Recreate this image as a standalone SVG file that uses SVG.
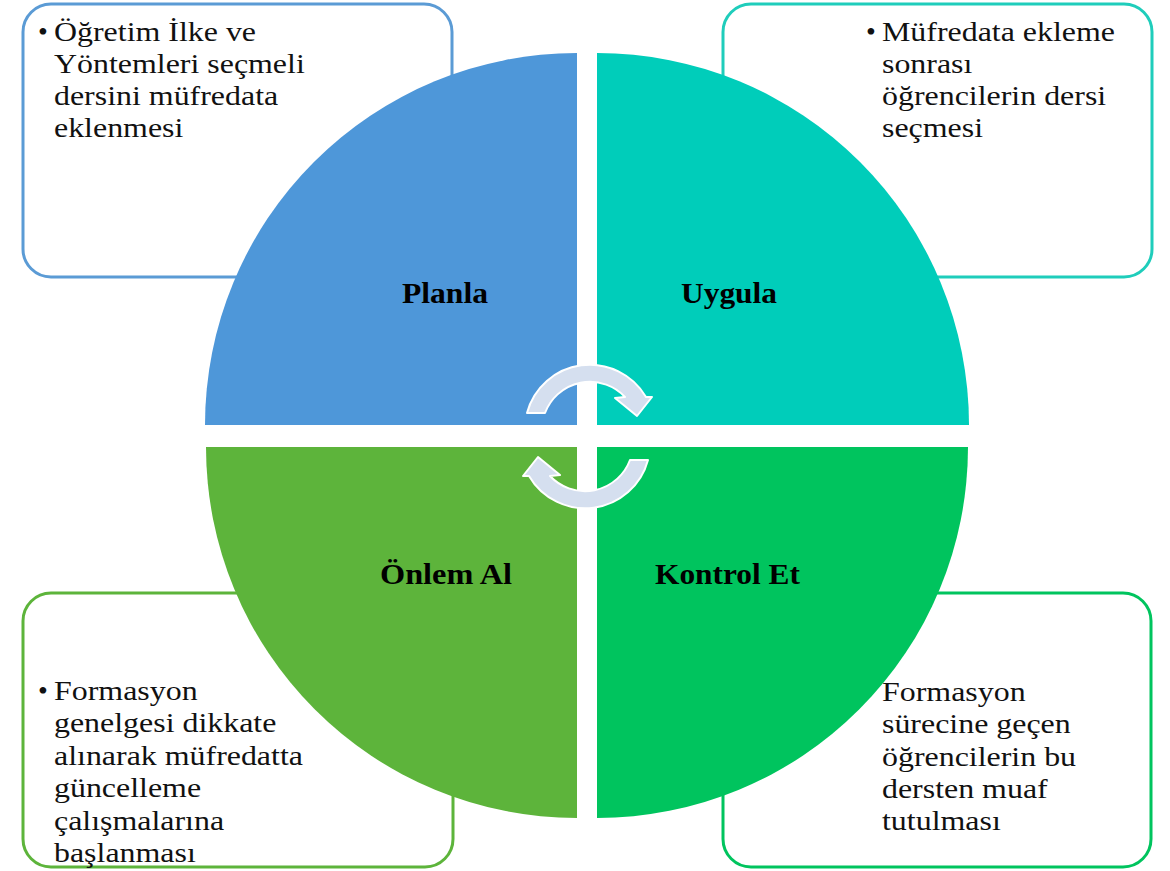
<svg xmlns="http://www.w3.org/2000/svg" width="1170" height="871" viewBox="0 0 1170 871">
  <style>
    .box { fill: #ffffff; stroke-width: 3; }
    .body { font-family: "Liberation Serif", "Times New Roman", serif; font-size: 28px; fill: #111111; }
    .lbl { font-family: "Liberation Serif", "Times New Roman", serif; font-size: 30px; font-weight: bold; fill: #000000; }
    .arrow { fill: #D5DFEF; stroke: #ffffff; stroke-width: 2; stroke-linejoin: round; }
  </style>
  <rect width="1170" height="871" fill="#ffffff"/>

  <g id="box-plan">
    <rect class="box" x="23" y="4" width="429" height="273" rx="28" stroke="#5B9BD5"/>
    <text class="body" x="38" y="41">•</text>
    <g transform="matrix(1.14 0 0 1 -7.56 0)">
      <text class="body" x="54" y="41">Öğretim İlke ve</text>
      <text class="body" x="54" y="73">Yöntemleri seçmeli</text>
      <text class="body" x="54" y="105">dersini müfredata</text>
      <text class="body" x="54" y="137">eklenmesi</text>
    </g>
  </g>

  <g id="box-uygula">
    <rect class="box" x="723" y="4" width="429" height="273" rx="28" stroke="#1FCDBB"/>
    <text class="body" x="866" y="41">•</text>
    <g transform="matrix(1.14 0 0 1 -123.48 0)">
      <text class="body" x="882" y="41">Müfredata ekleme</text>
      <text class="body" x="882" y="73">sonrası</text>
      <text class="body" x="882" y="105">öğrencilerin dersi</text>
      <text class="body" x="882" y="137">seçmesi</text>
    </g>
  </g>

  <g id="box-onlem">
    <rect class="box" x="23" y="593" width="430" height="274" rx="28" stroke="#5DB43B"/>
    <text class="body" x="38" y="700">•</text>
    <g transform="matrix(1.14 0 0 1 -7.56 0)">
      <text class="body" x="54" y="700">Formasyon</text>
      <text class="body" x="54" y="732">genelgesi dikkate</text>
      <text class="body" x="54" y="765">alınarak müfredatta</text>
      <text class="body" x="54" y="797">güncelleme</text>
      <text class="body" x="54" y="830">çalışmalarına</text>
      <text class="body" x="54" y="862">başlanması</text>
    </g>
  </g>

  <g id="box-kontrol">
    <rect class="box" x="723" y="593" width="428" height="274" rx="28" stroke="#00C45E"/>
    <g transform="matrix(1.14 0 0 1 -123.48 0)">
      <text class="body" x="882" y="701">Formasyon</text>
      <text class="body" x="882" y="733">sürecine geçen</text>
      <text class="body" x="882" y="766">öğrencilerin bu</text>
      <text class="body" x="882" y="798">dersten muaf</text>
      <text class="body" x="882" y="830">tutulması</text>
    </g>
  </g>

  <g id="sector-planla">
    <path d="M577,425 L205,425 A372,372 0 0 1 577,53 Z" fill="#4E97D9"/>
    <text class="lbl" x="402" y="303" textLength="86" lengthAdjust="spacingAndGlyphs">Planla</text>
  </g>
  <g id="sector-uygula">
    <path d="M597,425 L597,53 A372,372 0 0 1 969,425 Z" fill="#00CDBA"/>
    <text class="lbl" x="681" y="303" textLength="96" lengthAdjust="spacingAndGlyphs">Uygula</text>
  </g>
  <g id="sector-onlem">
    <path d="M577,447 L577,818 A371,371 0 0 1 206,447 Z" fill="#5DB43B"/>
    <text class="lbl" x="380" y="584" textLength="132" lengthAdjust="spacingAndGlyphs">Önlem Al</text>
  </g>
  <g id="sector-kontrol">
    <path d="M597,447 L968,447 A371,371 0 0 1 597,818 Z" fill="#00C45E"/>
    <text class="lbl" x="655" y="584" textLength="145" lengthAdjust="spacingAndGlyphs">Kontrol Et</text>
  </g>

  <g id="connectors">
    <path class="arrow" d="M527,413 A65,65 0 0 1 646,397 L652,397 L637,416 L615,398 L625,397 A48,48 0 0 0 545,413 Z"/>
    <path class="arrow" d="M527,413 A65,65 0 0 1 646,397 L652,397 L637,416 L615,398 L625,397 A48,48 0 0 0 545,413 Z" transform="rotate(180 587.5 436.5)"/>
  </g>
</svg>
